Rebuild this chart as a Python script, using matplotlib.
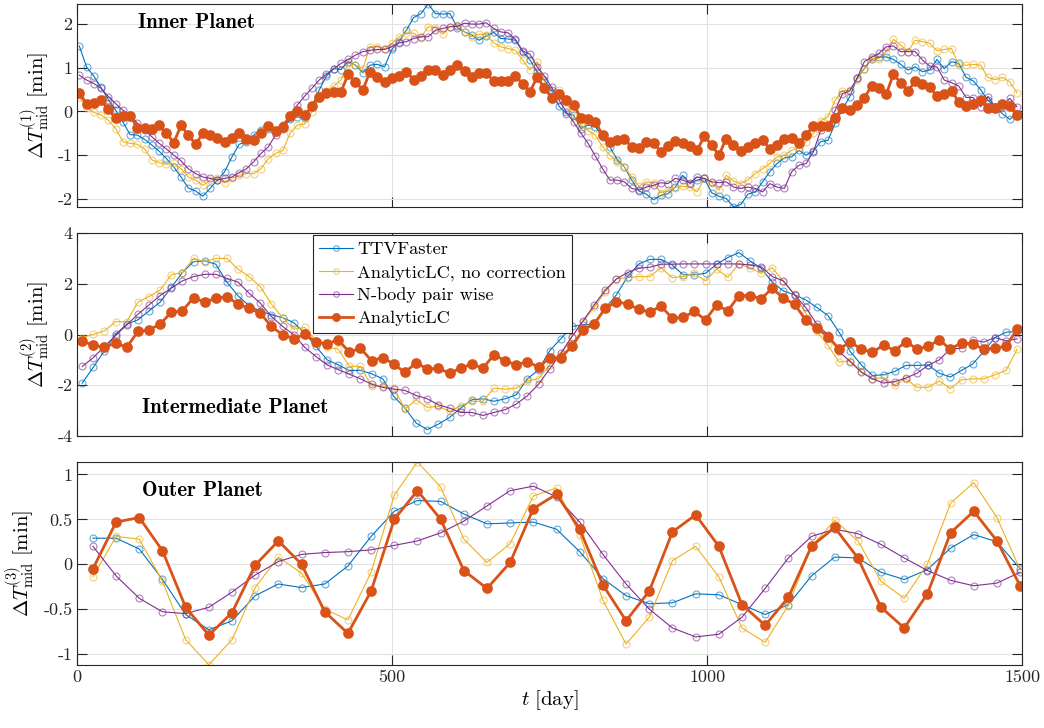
import numpy as np
import matplotlib
matplotlib.use("Agg")
import matplotlib.pyplot as plt

plt.rcParams["font.family"] = "cmr10"
plt.rcParams["mathtext.fontset"] = "cm"
plt.rcParams["axes.unicode_minus"] = False
plt.rcParams["font.size"] = 13

# transit epochs: first transit time and period [day]
t0_1, per_1, n_1 = 3.2, 11.54, 130
t0_2, per_2, n_2 = 7.9, 17.67, 85
t0_3, per_3, n_3 = 24.9, 36.8, 41

t1 = t0_1 + per_1 * np.arange(n_1)
t2 = t0_2 + per_2 * np.arange(n_2)
t3 = t0_3 + per_3 * np.arange(n_3)

labels = ["TTVFaster", "AnalyticLC, no correction", "N-body pair wise", "AnalyticLC"]

# ---- inner planet [min]
ttvf_1 = [1.50, 1.02, 0.81, 0.55, 0.27, 0.03, -0.24, -0.53, -0.54, -0.64, -0.77, -0.91, -1.08, -1.27, -1.50,
          -1.75, -1.82, -1.94, -1.76, -1.57, -1.38, -1.04, -0.75, -0.69, -0.54, -0.43, -0.39, -0.47, -0.39, -0.18,
          -0.12, -0.16, 0.11, 0.49, 0.81, 0.98, 0.96, 1.14, 1.06, 0.89, 1.06, 1.08, 1.02, 1.42, 1.60,
          1.86, 2.15, 2.24, 2.46, 2.24, 2.23, 2.24, 1.92, 1.82, 1.75, 1.63, 1.73, 1.81, 1.67, 1.66,
          1.63, 1.37, 1.18, 0.91, 0.72, 0.49, 0.12, -0.05, -0.08, -0.39, -0.31, -0.35, -0.58, -0.81, -1.10,
          -1.27, -1.57, -1.82, -1.89, -2.02, -1.92, -1.88, -1.73, -1.46, -1.65, -1.57, -1.53, -1.86, -1.94,
          -1.99, -2.18, -2.13, -1.89, -1.84, -1.61, -1.38, -1.19, -1.06, -1.04, -0.89, -1.00, -0.90, -0.69, -0.66,
          -0.27, 0.05, 0.34, 0.76, 0.98, 1.19, 1.24, 1.25, 1.19, 1.08, 0.95, 1.02, 0.91, 0.95, 1.19,
          0.98, 1.14, 1.10, 0.78, 0.70, 0.50, 0.26, 0.11, -0.05, -0.18, -0.05]
nocorr_1 = [0.34, 0.09, -0.02, -0.08, -0.20, -0.39, -0.69, -0.73, -0.75, -0.86, -1.11, -1.17, -1.21, -1.19, -1.31,
            -1.50, -1.57, -1.69, -1.57, -1.53, -1.63, -1.53, -1.46, -1.42, -1.42, -1.31, -1.08, -0.96, -0.89, -0.50,
            -0.31, -0.29, -0.01, 0.30, 0.47, 0.58, 0.72, 1.11, 1.06, 0.98, 1.48, 1.48, 1.44, 1.56, 1.71,
            1.80, 1.79, 1.69, 1.94, 1.92, 1.77, 1.94, 1.98, 1.82, 1.71, 1.77, 1.76, 1.57, 1.48, 1.44,
            1.40, 1.18, 0.95, 1.14, 0.68, 0.45, 0.50, 0.22, -0.12, -0.31, -0.44, -0.54, -0.81, -1.00, -1.15,
            -1.27, -1.50, -1.71, -1.61, -1.63, -1.86, -1.80, -1.74, -1.71, -1.73, -1.84, -1.53, -1.63, -1.80,
            -1.46, -1.59, -1.65, -1.56, -1.42, -1.31, -1.19, -1.04, -1.00, -0.89, -0.81, -0.69, -0.50, -0.21, -0.12,
            0.26, 0.47, 0.49, 0.72, 0.98, 1.21, 1.21, 1.37, 1.65, 1.52, 1.37, 1.63, 1.60, 1.56, 1.39,
            1.42, 1.44, 1.06, 1.06, 1.08, 1.06, 0.78, 0.73, 0.78, 0.68, 0.43]
nbody_1 = [0.83, 0.72, 0.64, 0.53, 0.34, 0.18, 0.03, -0.08, -0.27, -0.43, -0.58, -0.73, -0.86, -1.00, -1.13,
           -1.31, -1.42, -1.50, -1.53, -1.57, -1.53, -1.50, -1.40, -1.31, -1.15, -0.96, -0.81, -0.54, -0.31, -0.08,
           0.15, 0.35, 0.53, 0.72, 0.85, 0.98, 1.10, 1.19, 1.29, 1.37, 1.40, 1.42, 1.42, 1.48, 1.57,
           1.60, 1.67, 1.71, 1.71, 1.86, 1.90, 1.94, 1.95, 2.02, 2.00, 2.00, 2.03, 1.90, 1.82, 1.80,
           1.65, 1.39, 1.31, 1.02, 0.81, 0.55, 0.26, -0.01, -0.24, -0.49, -0.73, -1.02, -1.31, -1.57, -1.57,
           -1.61, -1.76, -1.80, -1.73, -1.69, -1.63, -1.65, -1.53, -1.57, -1.63, -1.50, -1.53, -1.61, -1.63,
           -1.61, -1.73, -1.76, -1.73, -1.76, -1.84, -1.65, -1.73, -1.76, -1.38, -1.23, -1.19, -0.92, -0.43, -0.35,
           0.03, 0.41, 0.47, 0.76, 1.14, 1.24, 1.33, 1.48, 1.50, 1.37, 1.37, 1.37, 1.18, 1.04, 1.02,
           0.72, 0.66, 0.58, 0.32, 0.32, 0.11, 0.34, 0.11, 0.11, 0.30, 0.11]
alc_1 = [0.43, 0.18, 0.20, 0.26, 0.05, -0.16, -0.11, -0.10, -0.37, -0.37, -0.39, -0.32, -0.50, -0.71, -0.32,
         -0.54, -0.75, -0.50, -0.54, -0.60, -0.69, -0.60, -0.50, -0.64, -0.66, -0.50, -0.34, -0.45, -0.35, -0.11,
         0.02, -0.08, 0.12, 0.34, 0.43, 0.45, 0.45, 0.85, 0.68, 0.49, 0.91, 0.78, 0.68, 0.76, 0.81,
         0.91, 0.73, 0.81, 0.96, 0.95, 0.83, 0.95, 1.06, 0.93, 0.78, 0.87, 0.89, 0.69, 0.69, 0.70,
         0.81, 0.64, 0.45, 0.79, 0.53, 0.31, 0.41, 0.27, 0.15, -0.14, -0.18, -0.24, -0.54, -0.69, -0.66,
         -0.62, -0.82, -0.83, -0.69, -0.72, -0.92, -0.79, -0.68, -0.73, -0.79, -0.89, -0.56, -0.77, -1.00,
         -0.62, -0.77, -0.90, -0.81, -0.73, -0.66, -0.85, -0.76, -0.62, -0.60, -0.72, -0.53, -0.33, -0.34, -0.34,
         -0.14, 0.07, 0.03, 0.16, 0.31, 0.59, 0.53, 0.39, 0.85, 0.66, 0.47, 0.69, 0.62, 0.56, 0.35,
         0.40, 0.47, 0.22, 0.12, 0.18, 0.27, 0.07, 0.07, 0.18, 0.12, -0.08]

# ---- intermediate planet [min]
ttvf_2 = [-1.92, -1.29, -0.64, 0.01, 0.41, 0.58, 0.93, 1.28, 1.86, 2.45, 2.88, 2.91, 2.78, 2.07, 1.53,
          1.13, 0.93, 0.78, 0.67, 0.47, 0.05, -0.47, -1.00, -1.20, -1.42, -1.42, -1.55, -1.75, -2.45,
          -2.91, -3.50, -3.76, -3.54, -3.28, -2.91, -2.58, -2.54, -2.64, -2.54, -2.38, -1.75, -1.39, -0.64,
          -0.17, 0.32, 0.38, 0.41, 1.04, 1.57, 2.29, 2.79, 2.97, 2.97, 2.75, 2.36, 2.36, 2.42,
          2.78, 3.04, 3.24, 2.91, 2.62, 2.07, 1.72, 1.57, 1.37, 1.07, 0.75, 0.09, -0.67, -1.20,
          -1.62, -1.59, -1.46, -1.22, -1.22, -1.20, -1.53, -1.68, -1.42, -1.17, -0.67, -0.12, 0.09, 0.12]
nocorr_2 = [-0.12, 0.01, 0.14, 0.51, 0.51, 1.28, 1.50, 1.76, 2.36, 2.45, 3.01, 2.88, 3.01, 3.01, 2.58,
            2.29, 1.89, 1.20, 0.67, 0.21, 0.28, -0.25, -0.51, -0.57, -1.26, -1.26, -2.03, -2.05, -2.12,
            -2.95, -2.58, -2.88, -2.84, -3.04, -2.82, -2.64, -2.64, -2.12, -2.16, -2.12, -1.83, -1.75, -1.20,
            -0.80, -0.08, 0.51, 1.07, 1.70, 2.20, 2.25, 2.29, 2.29, 2.64, 2.25, 2.29, 2.42, 2.12,
            2.58, 2.26, 2.79, 2.64, 2.42, 2.64, 2.09, 1.59, 0.84, 0.12, -0.43, -1.09, -1.04, -1.46,
            -1.75, -1.70, -1.99, -1.75, -2.09, -2.09, -1.83, -2.14, -1.79, -1.75, -1.75, -1.59, -1.42, -0.58]
nbody_2 = [-1.26, -0.91, -0.47, -0.04, 0.38, 0.80, 1.17, 1.54, 1.83, 2.12, 2.29, 2.38, 2.38, 2.22, 2.07,
           1.63, 1.24, 0.71, 0.32, -0.01, -0.51, -0.87, -1.20, -1.39, -1.57, -1.75, -1.96, -2.09, -2.16,
           -2.21, -2.41, -2.54, -2.78, -2.91, -3.08, -3.08, -3.20, -3.08, -2.97, -2.75, -2.42, -1.96, -1.36,
           -0.74, -0.08, 0.54, 1.17, 1.76, 2.20, 2.45, 2.62, 2.66, 2.78, 2.78, 2.79, 2.79, 2.79,
           2.79, 2.79, 2.79, 2.75, 2.68, 2.29, 2.12, 1.57, 1.07, 0.41, -0.01, -0.67, -1.07, -1.49,
           -1.75, -1.92, -1.86, -1.72, -1.53, -1.22, -1.00, -0.57, -0.54, -0.21, -0.30, -0.12, -0.25, -0.17]
alc_2 = [-0.25, -0.43, -0.50, -0.34, -0.50, 0.12, 0.18, 0.41, 0.88, 0.93, 1.46, 1.28, 1.43, 1.50, 1.20,
         1.04, 0.84, 0.32, -0.01, -0.17, 0.01, -0.30, -0.37, -0.21, -0.70, -0.54, -1.04, -0.91, -1.17,
         -1.50, -1.11, -1.37, -1.33, -1.53, -1.33, -1.17, -1.33, -0.80, -1.04, -1.20, -1.07, -1.29, -0.93,
         -0.91, -0.47, 0.18, 0.42, 1.04, 1.30, 1.20, 1.00, 0.88, 1.13, 0.64, 0.68, 0.91, 0.58,
         1.17, 0.93, 1.54, 1.54, 1.41, 1.83, 1.43, 1.20, 0.58, 0.25, -0.08, -0.57, -0.30, -0.57,
         -0.71, -0.41, -0.64, -0.28, -0.57, -0.47, -0.21, -0.58, -0.32, -0.38, -0.57, -0.54, -0.47, 0.22]

# ---- outer planet [min]
ttvf_3 = [0.29, 0.29, 0.17, -0.17, -0.56, -0.73, -0.63, -0.35, -0.22, -0.26, -0.22, -0.02, 0.31, 0.59,
          0.71, 0.70, 0.56, 0.45, 0.46, 0.47, 0.39, 0.14, -0.16, -0.35, -0.44, -0.43, -0.33, -0.34,
          -0.45, -0.56, -0.45, -0.13, 0.08, 0.07, -0.09, -0.17, -0.06, 0.18, 0.33, 0.25, -0.05]
nocorr_3 = [-0.14, 0.31, 0.28, -0.19, -0.84, -1.12, -0.84, -0.26, 0.08, -0.10, -0.50, -0.62, -0.09, 0.77,
            1.14, 0.86, 0.28, 0.02, 0.23, 0.76, 0.85, 0.33, -0.40, -0.89, -0.59, 0.04, 0.20, -0.14,
            -0.71, -0.87, -0.46, 0.20, 0.49, 0.26, -0.19, -0.38, 0.00, 0.68, 0.91, 0.52, -0.06]
nbody_3 = [0.20, -0.13, -0.38, -0.53, -0.55, -0.48, -0.31, -0.12, 0.03, 0.11, 0.13, 0.14, 0.16, 0.21,
           0.26, 0.35, 0.48, 0.65, 0.82, 0.87, 0.75, 0.47, 0.11, -0.22, -0.50, -0.71, -0.81, -0.78,
           -0.59, -0.27, 0.07, 0.31, 0.39, 0.34, 0.22, 0.07, -0.07, -0.18, -0.24, -0.21, -0.09]
alc_3 = [-0.05, 0.47, 0.52, 0.15, -0.48, -0.79, -0.54, -0.01, 0.26, 0.00, -0.53, -0.77, -0.30, 0.50,
         0.82, 0.50, -0.07, -0.27, 0.02, 0.62, 0.78, 0.39, -0.23, -0.63, -0.30, 0.36, 0.55, 0.20,
         -0.45, -0.68, -0.37, 0.20, 0.41, 0.07, -0.48, -0.71, -0.33, 0.35, 0.59, 0.26, -0.24]

blue = (0.0, 0.447, 0.741)
orange = (0.850, 0.325, 0.098)
yellow = (0.929, 0.694, 0.125)
purple = (0.494, 0.184, 0.556)

fig = plt.figure(figsize=(10.44, 7.28), dpi=100)
left, width = 0.074, 0.905
ax1 = fig.add_axes([left, 0.716, width, 0.2785])
ax2 = fig.add_axes([left, 0.4015, width, 0.278])
ax3 = fig.add_axes([left, 0.0865, width, 0.2795])

panels = [
    (ax1, t1, ttvf_1, nocorr_1, nbody_1, alc_1, (-2.18, 2.46), [-2, -1, 0, 1, 2], "1"),
    (ax2, t2, ttvf_2, nocorr_2, nbody_2, alc_2, (-4, 4), [-4, -2, 0, 2, 4], "2"),
    (ax3, t3, ttvf_3, nocorr_3, nbody_3, alc_3, (-1.123, 1.144), [-1, -0.5, 0, 0.5, 1], "3"),
]

for ax, t, a, b, c, d, yl, yt, k in panels:
    for y, col in [(a, blue), (b, yellow), (c, purple)]:
        ax.plot(t, y, "-o", color=col, lw=0.8, ms=5, mfc="none",
                mec=col + (0.6,), mew=0.8)
    ax.plot(t, d, "-o", color=orange, lw=2.0, ms=6.5, mfc=orange, mec=orange, mew=1.2)
    ax.set_xlim(0, 1500)
    ax.set_ylim(*yl)
    ax.set_yticks(yt)
    ax.set_xticks([0, 500, 1000, 1500])
    ax.grid(True, color="#e2e2e2", lw=0.8)
    ax.set_axisbelow(True)
    ax.tick_params(direction="in", length=7, width=0.8, top=True, right=True,
                   labelsize=13, colors="#262626")
    for s in ax.spines.values():
        s.set_color("#262626")
        s.set_linewidth(0.8)
    ax.set_ylabel(r"$\Delta T^{(%s)}_{\mathrm{mid}}\ [\mathrm{min}]$" % k, fontsize=15)

ax1.set_yticklabels(["-2", "-1", "0", "1", "2"])
ax1.tick_params(labelbottom=False)
ax2.tick_params(labelbottom=False)
ax3.set_yticklabels(["-1", "-0.5", "0", "0.5", "1"])
ax1.yaxis.set_label_coords(-0.027, 0.5)
ax2.yaxis.set_label_coords(-0.027, 0.5)
ax3.yaxis.set_label_coords(-0.043, 0.5)
ax3.set_xlabel(r"$t\ [\mathrm{day}]$", fontsize=15, labelpad=2)

ax1.text(0.064, 0.91, "Inner Planet", transform=ax1.transAxes, family="cmb10",
         fontsize=15, va="center", ha="left")
ax2.text(0.068, 0.137, "Intermediate Planet", transform=ax2.transAxes, family="cmb10",
         fontsize=15, va="center", ha="left")
ax3.text(0.068, 0.856, "Outer Planet", transform=ax3.transAxes, family="cmb10",
         fontsize=15, va="center", ha="left")

leg = ax2.legend(labels, loc="upper left", bbox_to_anchor=(0.2495, 0.991), borderaxespad=0,
                 fontsize=13.2, fancybox=False, framealpha=1, edgecolor="#262626",
                 handlelength=1.85, borderpad=0.35, labelspacing=0.38, handletextpad=0.2,
                 markerscale=0.8)
leg.get_frame().set_linewidth(0.8)

fig.savefig("out.png", dpi=100)
